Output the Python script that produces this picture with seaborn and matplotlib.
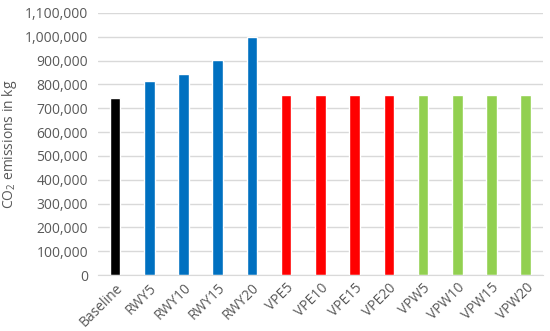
import pandas as pd
import matplotlib
matplotlib.use('Agg')
import matplotlib.pyplot as plt
import matplotlib.ticker as mticker
import seaborn as sns

sns.set_style('white')
plt.rcParams['font.family'] = ['Open Sans', 'DejaVu Sans']

# values
scenarios = ['Baseline', 'RWY5', 'RWY10', 'RWY15', 'RWY20',
             'VPE5', 'VPE10', 'VPE15', 'VPE20',
             'VPW5', 'VPW10', 'VPW15', 'VPW20']
emissions = [745000, 815000, 842000, 903000, 1001000,
             754000, 754000, 754000, 754000,
             754000, 754000, 754000, 754000]
colors = ['#000000'] + ['#0070C0'] * 4 + ['#FF0000'] * 4 + ['#92D050'] * 4

df = pd.DataFrame({'Scenario': scenarios, 'CO2': emissions})

fig = plt.figure(figsize=(5.5, 3.31), dpi=100)
ax = fig.add_axes([0.178, 0.169, 0.809, 0.792])

sns.barplot(data=df, x='Scenario', y='CO2', hue='Scenario',
            palette=colors, saturation=1, legend=False, width=0.31, ax=ax)

ax.set_ylim(0, 1100000)
ax.set_xlim(-0.5, len(scenarios) - 0.5)
ax.yaxis.set_major_locator(mticker.MultipleLocator(100000))
ax.yaxis.set_major_formatter(mticker.StrMethodFormatter('{x:,.0f}'))
ax.grid(axis='y', color='#D9D9D9', linewidth=1)
ax.set_axisbelow(True)
for s in ['top', 'right', 'left']:
    ax.spines[s].set_visible(False)
ax.spines['bottom'].set_color('#D9D9D9')

ax.tick_params(axis='both', length=0, labelsize=10, colors='#595959')
ax.tick_params(axis='y', pad=7)
ax.tick_params(axis='x', pad=4)
plt.setp(ax.get_xticklabels(), rotation=45, ha='right', rotation_mode='anchor')

ax.set_xlabel('')
ax.set_ylabel('CO$_\\mathregular{2}$ emissions in kg', fontsize=10, color='#595959')

fig.savefig('out.png', dpi=100)
